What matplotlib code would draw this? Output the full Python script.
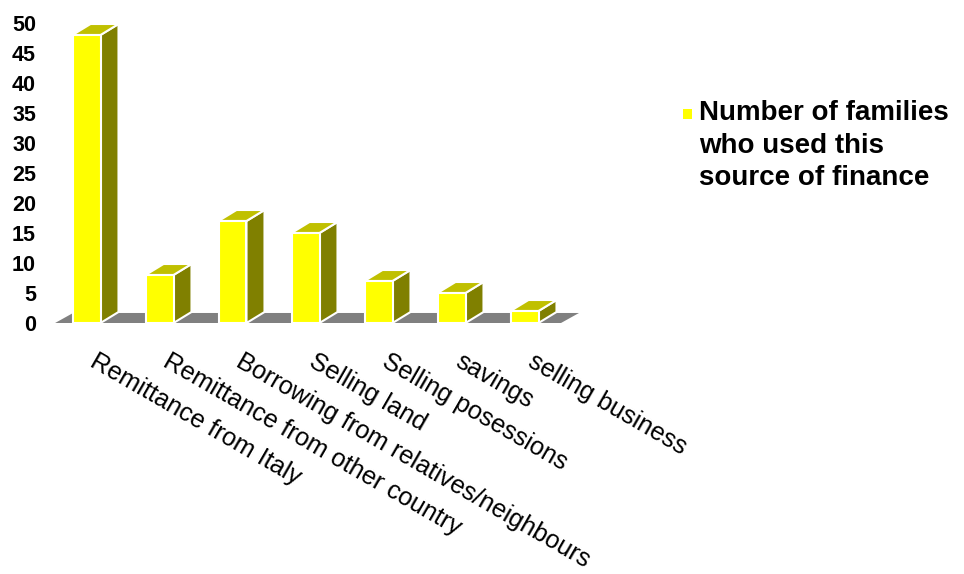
import numpy as np
import matplotlib.pyplot as plt
from matplotlib.patches import Polygon, Rectangle

plt.rcParams['font.family'] = ['Liberation Sans', 'DejaVu Sans']

# Data
categories = ["Remittance from Italy", "Remittance from other country",
              "Borrowing from relatives/neighbours", "Selling land",
              "Selling posessions", "savings", "selling business"]
families = [48, 8, 17, 15, 7, 5, 2]
yticks = list(range(0, 55, 5))
series_name = "Number of families\nwho used this\nsource of finance"

W, H = 964, 574
fig = plt.figure(figsize=(W / 100, H / 100), dpi=100)

# axes placed in pixel terms: x -0.5..7.0 -> 50..597.5 px, y -1..52 -> 329..11 px
ax = fig.add_axes([50 / W, (H - 329) / H, 547.5 / W, 318 / H])
ax.set_xlim(-0.5, 7.0)
ax.set_ylim(-1, 52)

front_c, side_c, top_c = "#FFFF00", "#808000", "#C0C000"
bw = 28 / 73          # front face width
dx, dy = 18 / 73, 11 / 6   # depth offset

# grey floor
fx0, fx1 = -0.43, 6.5
ax.add_patch(Polygon([(fx0, 0), (fx1, 0), (fx1 + dx, 1.67), (fx0 + dx, 1.67)],
                     closed=True, facecolor="#808080", edgecolor="none", zorder=1))

for i, v in enumerate(families):
    x0, x1 = i - bw / 2, i + bw / 2
    ax.add_patch(Polygon([(x1, 0), (x1 + dx, dy), (x1 + dx, v + dy), (x1, v)],
                         closed=True, facecolor=side_c, edgecolor="white", lw=1.5, zorder=2))
    ax.add_patch(Polygon([(x0, v), (x1, v), (x1 + dx, v + dy), (x0 + dx, v + dy)],
                         closed=True, facecolor=top_c, edgecolor="white", lw=1.5, zorder=2))
    ax.add_patch(Rectangle((x0, 0), bw, v, facecolor=front_c, edgecolor="white",
                           lw=1.5, zorder=3))
    ax.text(i + 0.16, -4.3, categories[i], rotation=-30, rotation_mode="anchor",
            ha="left", va="top", fontsize=18.2, color="black")

for s in ax.spines.values():
    s.set_visible(False)
ax.set_xticks([])
ax.set_yticks(yticks)
ax.set_yticklabels([str(t) for t in yticks], fontsize=15.5, fontweight="bold")
ax.tick_params(axis="y", length=0, pad=10)

# legend
fig.patches.append(Rectangle((683 / W, 1 - 119 / H), 9 / W, 10 / H,
                             transform=fig.transFigure, facecolor=front_c,
                             edgecolor="none"))
fig.text(699 / W, 1 - 100 / H, series_name, ha="left", va="top",
         fontsize=20, fontweight="bold", linespacing=1.33)

fig.savefig("out.png", dpi=100)
